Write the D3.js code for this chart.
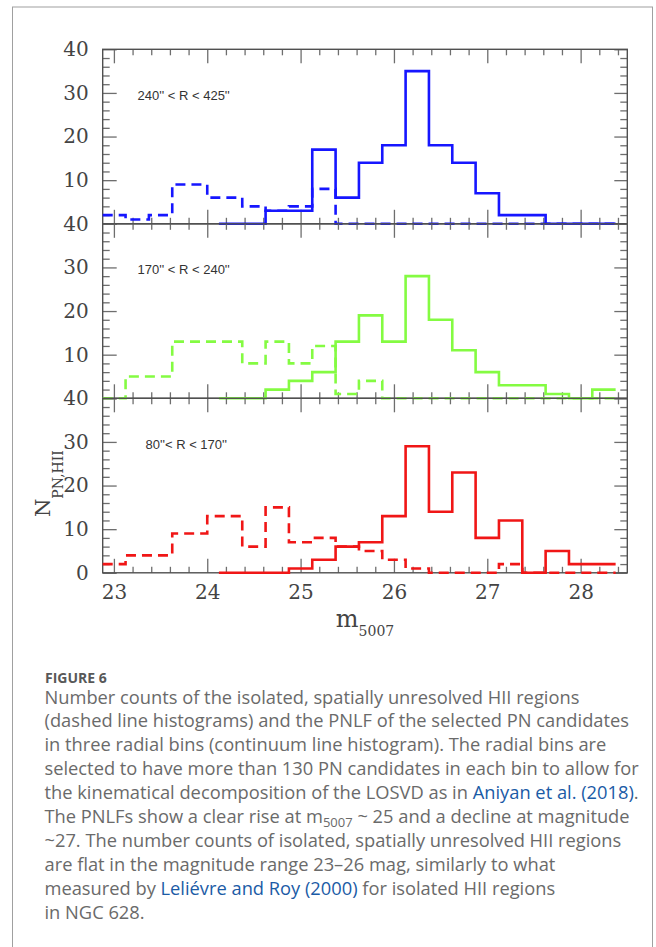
<!DOCTYPE html>
<html>
<head>
<meta charset="utf-8">
<script src="https://cdn.jsdelivr.net/npm/d3@7"></script>
<style>
  html, body { margin: 0; padding: 0; background: #fff; }
  svg { display: block; }
</style>
</head>
<body>
<script>
// ---------------- data ----------------
const magDomain = [22.88, 28.5];
const countDomain = [0, 40];
const xMajorTicks = [23, 24, 25, 26, 27, 28];
const yMajorTicks = [0, 10, 20, 30, 40];
const panelLabels = ["240'' < R < 425''", "170'' < R < 240''", "80''< R < 170''"];
const panelColors = ["#1616ff", "#84fb42", "#f01616"];

// PN bins (solid histograms): bin edges in m5007
const pnEdges = [24.125, 24.375, 24.625, 24.875, 25.125, 25.375, 25.625, 25.875, 26.125,
                 26.375, 26.625, 26.875, 27.125, 27.375, 27.625, 27.875, 28.125, 28.375];
const pnOuter  = [0, 0, 3, 3, 17, 6, 14, 18, 35, 18, 14, 7, 2, 2, 0, 0, 0];
const pnMiddle = [0, 0, 2, 4, 6, 13, 19, 13, 28, 18, 11, 6, 3, 3, 1, 0, 2];
const pnInner  = [0, 0, 0, 1, 3, 6, 7, 13, 29, 14, 23, 8, 12, 0, 5, 2, 2];

// HII bins (dashed histograms)
const hiiEdges = [22.88, 23.125, 23.375, 23.625, 24.0, 24.375, 24.625, 24.875, 25.125, 25.375,
                  25.625, 25.875, 26.125, 26.375, 26.625, 26.875, 27.125, 27.375, 27.625,
                  27.875, 28.125, 28.375];
const hiiOuter  = [2, 1, 2, 9, 6, 4, 3, 4, 8, 0, 0, 0, 0, 0, 0, 0, 0, 0, 0, 0, 0];
const hiiMiddle = [0, 5, 5, 13, 13, 8, 13, 8, 12, 1, 4, 0, 0, 0, 0, 0, 0, 0, 0, 0, 0];
const hiiInner  = [2, 4, 4, 9, 13, 6, 15, 7, 8, 6, 5, 3, 1, 0, 0, 0, 2, 0, 0, 0, 0];

const pnSeries = [pnOuter, pnMiddle, pnInner];
const hiiSeries = [hiiOuter, hiiMiddle, hiiInner];

const captionLines = [
  [{t: "Number counts of the isolated, spatially unresolved HII regions"}],
  [{t: "(dashed line histograms) and the PNLF of the selected PN candidates"}],
  [{t: "in three radial bins (continuum line histogram). The radial bins are"}],
  [{t: "selected to have more than 130 PN candidates in each bin to allow for"}],
  [{t: "the kinematical decomposition of the LOSVD as in "}, {t: "Aniyan et al. (2018)", link: true}, {t: "."}],
  [{t: "The PNLFs show a clear rise at m"}, {t: "5007", sub: true}, {t: " ~ 25 and a decline at magnitude", after: true}],
  [{t: "~27. The number counts of isolated, spatially unresolved HII regions"}],
  [{t: "are flat in the magnitude range 23\u201326 mag, similarly to what"}],
  [{t: "measured by "}, {t: "Leli\u00e9vre and Roy (2000)", link: true}, {t: " for isolated HII regions"}],
  [{t: "in NGC 628."}]
];

// ---------------- layout ----------------
const W = 656, H = 947;
const plotLeft = 102.7, plotRight = 627.3;
const panelTop0 = 49.3, panelH = 174.5;

const svg = d3.select("body").append("svg").attr("width", W).attr("height", H);

// figure border
svg.append("rect").attr("x", 12.5).attr("y", 7).attr("width", 640).attr("height", 960)
  .attr("fill", "none").attr("stroke", "#a0a0a0").attr("stroke-width", 1);

const x = d3.scaleLinear().domain(magDomain).range([plotLeft, plotRight]);
const xMinor = d3.range(115, 143).map(k => k / 5).filter(v => Math.abs(v - Math.round(v)) > 1e-6);
const yMinor = d3.range(0, 41, 2).filter(v => v % 10 !== 0);

const serif = "'DejaVu Serif', serif";

function stepPoints(edges, vals) {
  const pts = [];
  vals.forEach((v, i) => { pts.push([edges[i], v]); pts.push([edges[i + 1], v]); });
  return pts;
}

for (let p = 0; p < 3; p++) {
  const top = panelTop0 + p * panelH;
  const bottom = top + panelH;
  const y = d3.scaleLinear().domain(countDomain).range([bottom, top]);
  const g = svg.append("g");

  const tickStyle = sel => {
    sel.select(".domain").remove();
    sel.selectAll(".tick line").attr("stroke", "#6e6e6e").attr("stroke-width", 1.3);
    sel.selectAll(".tick text").remove();
  };
  g.append("g").attr("transform", `translate(0,${bottom})`)
    .call(d3.axisBottom(x).tickValues(xMajorTicks).tickSize(-14)).call(tickStyle);
  g.append("g").attr("transform", `translate(0,${bottom})`)
    .call(d3.axisBottom(x).tickValues(xMinor).tickSize(-6)).call(tickStyle);
  g.append("g").attr("transform", `translate(0,${top})`)
    .call(d3.axisTop(x).tickValues(xMajorTicks).tickSize(-14)).call(tickStyle);
  g.append("g").attr("transform", `translate(0,${top})`)
    .call(d3.axisTop(x).tickValues(xMinor).tickSize(-6)).call(tickStyle);
  g.append("g").attr("transform", `translate(${plotLeft},0)`)
    .call(d3.axisLeft(y).tickValues(yMajorTicks).tickSize(-14)).call(tickStyle);
  g.append("g").attr("transform", `translate(${plotLeft},0)`)
    .call(d3.axisLeft(y).tickValues(yMinor).tickSize(-7)).call(tickStyle);
  g.append("g").attr("transform", `translate(${plotRight},0)`)
    .call(d3.axisRight(y).tickValues(yMajorTicks).tickSize(-13)).call(tickStyle);
  g.append("g").attr("transform", `translate(${plotRight},0)`)
    .call(d3.axisRight(y).tickValues(yMinor).tickSize(-7)).call(tickStyle);

  const yLabVals = p === 2 ? yMajorTicks : yMajorTicks.filter(v => v !== 0);
  const yl = g.append("g").attr("transform", `translate(${plotLeft},0)`)
    .call(d3.axisLeft(y).tickValues(yLabVals).tickSize(0).tickPadding(14).tickFormat(d3.format("d")));
  yl.select(".domain").remove();
  yl.selectAll("text").attr("font-family", serif).attr("font-size", 20).attr("fill", "#444");

  g.append("rect").attr("x", plotLeft).attr("y", top).attr("width", plotRight - plotLeft)
    .attr("height", panelH).attr("fill", "none").attr("stroke", "#505050").attr("stroke-width", 1.4);

  const line = d3.line().x(d => x(d[0])).y(d => y(d[1]));
  g.append("path").attr("d", line(stepPoints(hiiEdges, hiiSeries[p])))
    .attr("fill", "none").attr("stroke", panelColors[p]).attr("stroke-width", 2.6)
    .attr("stroke-dasharray", "10,6");
  g.append("path").attr("d", line(stepPoints(pnEdges, pnSeries[p])))
    .attr("fill", "none").attr("stroke", panelColors[p]).attr("stroke-width", 2.6);

  g.append("text").attr("x", p === 2 ? 145.5 : 137.5).attr("y", top + 50.5)
    .attr("font-family", "'Liberation Sans', Arial, sans-serif").attr("font-size", 13)
    .attr("fill", "#333").text(panelLabels[p]);

  if (p === 2) {
    const xl = g.append("g").attr("transform", `translate(0,${bottom})`)
      .call(d3.axisBottom(x).tickValues(xMajorTicks).tickSize(0).tickPadding(12).tickFormat(d3.format("d")));
    xl.select(".domain").remove();
    xl.selectAll("text").attr("font-family", serif).attr("font-size", 20).attr("fill", "#444");
  }
}

// axis titles
const xt = svg.append("text").attr("x", 365).attr("y", 627).attr("text-anchor", "middle")
  .attr("font-family", serif).attr("fill", "#444");
xt.append("tspan").attr("font-size", 24).text("m");
xt.append("tspan").attr("font-size", 14).attr("dy", 9).text("5007");

const yt = svg.append("text").attr("transform", "translate(50,517) rotate(-90)")
  .attr("font-family", serif).attr("fill", "#444");
yt.append("tspan").attr("font-size", 21).text("N");
yt.append("tspan").attr("font-size", 14).attr("dy", 13).text("PN,HII");

// caption
const capFont = "'Open Sans', 'Noto Sans', sans-serif";
svg.append("text").attr("x", 45).attr("y", 682.5).attr("font-family", capFont)
  .attr("font-size", 14).attr("font-weight", 700).attr("fill", "#585858").text("FIGURE 6");

captionLines.forEach((parts, i) => {
  const t = svg.append("text").attr("x", 44.5).attr("y", 703.5 + i * 23.9)
    .attr("font-family", capFont).attr("font-size", 18.3).attr("fill", "#6a6a6a");
  parts.forEach(part => {
    const s = t.append("tspan").text(part.t);
    if (part.link) s.attr("fill", "#1b5ba6");
    if (part.sub) s.attr("font-size", 13).attr("dy", 4);
    if (part.after) s.attr("dy", -4);
  });
});
</script>
</body>
</html>
